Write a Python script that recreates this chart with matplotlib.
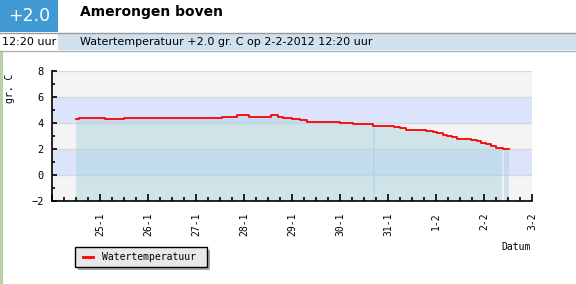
import pandas as pd
import matplotlib
matplotlib.use("Agg")
import matplotlib.pyplot as plt
import matplotlib.dates as mdates
from matplotlib.patches import Rectangle
from matplotlib.ticker import FuncFormatter, MultipleLocator

# data: step points (hours after 24-1-2012 00:00) and water temperature
hours = [12, 13.5, 26.5, 36, 60.5, 74, 85, 92.5, 98.5, 109.5, 113, 115.5,
         120, 124, 127.5, 144, 150.5, 160.5, 165, 171, 174, 177, 187, 190.5,
         192.5, 195.5, 197.5, 200, 202.5, 209.5, 212.5, 214.5, 217, 219.5,
         222, 225, 225.5, 228.33]
temps = [4.31, 4.36, 4.31, 4.36, 4.42, 4.38, 4.44, 4.59, 4.44, 4.59, 4.46,
         4.36, 4.28, 4.20, 4.08, 4.00, 3.92, 3.77, 3.74, 3.69, 3.62, 3.46,
         3.38, 3.31, 3.23, 3.08, 3.00, 2.92, 2.77, 2.69, 2.62, 2.46, 2.38,
         2.23, 2.08, 2.04, 2.00, 2.00]
# fill segments (hours), the reference shows seams in the area
segments = [(12, 161.5), (160.5, 225), (225.8, 228.33)]

start = pd.Timestamp("2012-01-24")
x_start = pd.Timestamp("2012-01-24")
x_end = pd.Timestamp("2012-02-03")
df = pd.DataFrame({"t": start + pd.to_timedelta(hours, unit="h"), "v": temps})

W, H = 576, 284
fig = plt.figure(figsize=(W / 100, H / 100), dpi=100)


def fx(x):
    return x / W


def fy(y):
    return 1 - y / H


def box(x0, y0, x1, y1, **kw):
    fig.patches.append(Rectangle((fx(x0), fy(y1)), (x1 - x0) / W, (y1 - y0) / H,
                                 transform=fig.transFigure, **kw))


# header
box(0, 52, 3, 284, color="#b8d0a4", lw=0)
box(0, 0, 58, 32, color="#4199d3", lw=0)
box(58, 33, 576, 50, color="#cfe1ee", lw=0)
fig.add_artist(plt.Line2D([0, 1], [fy(33), fy(33)], color="#9a9a9a", lw=1, transform=fig.transFigure))
fig.add_artist(plt.Line2D([0, 1], [fy(50.5), fy(50.5)], color="#b0b0b0", lw=1, transform=fig.transFigure))
fig.text(fx(29), fy(16), "+2.0", color="white", fontsize=12.5, ha="center", va="center")
fig.text(fx(80), fy(12), "Amerongen boven", fontsize=10, weight="bold", va="center")
fig.text(fx(2), fy(42), "12:20 uur", fontsize=8, va="center")
fig.text(fx(80), fy(42), "Watertemperatuur +2.0 gr. C op 2-2-2012 12:20 uur", fontsize=8, va="center")

mono = "DejaVu Sans Mono"
ax = fig.add_axes([fx(52), fy(201), 480 / W, 130 / H])
ax.set_xlim(x_start, x_end)
ax.set_ylim(-2, 8)

# background bands
for lo, c in [(-2, "#f4f4f4"), (0, "#dce4fc"), (2, "#f4f4f4"), (4, "#dce4fc"), (6, "#f4f4f4")]:
    ax.axhspan(lo, lo + 2, color=c, lw=0, zorder=0)
for y in [0, 2, 4, 6, 8]:
    ax.axhline(y, color="#d8d8d8", lw=1, zorder=1)

vals = df.set_index("t").v
for a, b in segments:
    t0, t1 = start + pd.Timedelta(hours=a), start + pd.Timedelta(hours=b)
    v0 = vals[vals.index <= t0].iloc[-1]
    inner = vals[(vals.index > t0) & (vals.index < t1)]
    v1 = vals[vals.index <= t1].iloc[-1]
    s = pd.concat([pd.Series([v0], index=[t0]), inner, pd.Series([v1], index=[t1])])
    ax.fill_between(s.index, -2, s.values, step="post", color="#aad6e0", alpha=0.5, lw=0, zorder=2)

ax.step(df.t, df.v, where="post", color="#ff0000", lw=1.3, zorder=3)


def day_label(v, p):
    d = mdates.num2date(v)
    if d.day == 24 and d.month == 1:
        return ""
    return f"{d.day}-{d.month}"


ax.xaxis.set_major_locator(mdates.DayLocator())
ax.xaxis.set_minor_locator(mdates.HourLocator(byhour=[6, 12, 18]))
ax.xaxis.set_major_formatter(FuncFormatter(day_label))
ax.yaxis.set_major_locator(MultipleLocator(2))
ax.yaxis.set_minor_locator(MultipleLocator(1))
ax.tick_params(axis="x", which="major", direction="in", length=5, width=1.2, pad=8,
               labelrotation=90, labelsize=7)
ax.tick_params(axis="x", which="minor", direction="in", length=3, width=1.2)
ax.tick_params(axis="y", which="major", direction="in", length=3.5, width=1.2, pad=6, labelsize=7.5)
ax.tick_params(axis="y", which="minor", direction="in", length=2.5, width=1.2)
ax.xaxis.set_zorder(6)
ax.yaxis.set_zorder(6)
for lab in ax.get_xticklabels() + ax.get_yticklabels():
    lab.set_family(mono)
for s in ["top", "right"]:
    ax.spines[s].set_visible(False)
for s in ["left", "bottom"]:
    ax.spines[s].set_linewidth(1.2)
    ax.spines[s].set_zorder(7)

fig.text(fx(10), fy(88), "gr. C", rotation=90, fontsize=7, family=mono, ha="center", va="center")
fig.text(fx(516), fy(247), "Datum", fontsize=7, family=mono, ha="center", va="center")

# legend
box(78, 250, 210, 270, color="#a8a8a8", lw=0)
box(75, 247, 207, 267, facecolor="#e8e8e8", edgecolor="black", lw=1)
fig.add_artist(plt.Line2D([fx(83), fx(93)], [fy(257), fy(257)], color="#ff0000", lw=2,
                          transform=fig.transFigure))
fig.text(fx(102), fy(257), "Watertemperatuur", fontsize=7, family=mono, va="center")

fig.savefig("out.png", dpi=100)
